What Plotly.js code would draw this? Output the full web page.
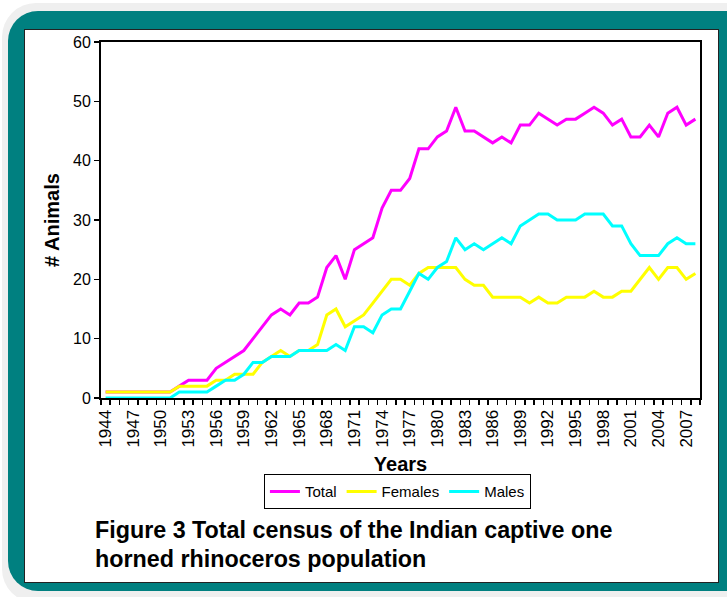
<!DOCTYPE html>
<html>
<head>
<meta charset="utf-8">
<script src="https://cdn.plot.ly/plotly-3.0.1.min.js"></script>
<style>
  html, body { margin:0; padding:0; width:727px; height:597px; overflow:hidden; background:#ffffff; }
  #ring { position:absolute; left:2px; top:3px; width:760px; height:600px; border-radius:34px; background:#efefef; }
  #teal { position:absolute; left:8px; top:11px; width:750px; height:580px; border-radius:30px; background:#008080; }
  #panel { position:absolute; left:24px; top:29px; width:693px; height:552px; background:#ffffff; border:1px solid #222; }
  #chart { position:absolute; left:0; top:0; width:727px; height:597px; }
</style>
</head>
<body>
<div id="ring"></div>
<div id="teal"></div>
<div id="panel"></div>
<div id="chart"></div>
<script>
const years = [1944,1945,1946,1947,1948,1949,1950,1951,1952,1953,1954,1955,1956,1957,1958,1959,1960,1961,1962,1963,
  1964,1965,1966,1967,1968,1969,1970,1971,1972,1973,1974,1975,1976,1977,1978,1979,1980,1981,1982,1983,
  1984,1985,1986,1987,1988,1989,1990,1991,1992,1993,1994,1995,1996,1997,1998,1999,2000,2001,2002,2003,
  2004,2005,2006,2007,2008];
const total = [1,1,1,1,1,1,1,1,2,3,3,3,5,6,7,8,10,12,14,15,
  14,16,16,17,22,24,20,25,26,27,32,35,35,37,42,42,44,45,49,45,
  45,44,43,44,43,46,46,48,47,46,47,47,48,49,48,46,47,44,44,46,
  44,48,49,46,47];
const females = [1,1,1,1,1,1,1,1,2,2,2,2,3,3,4,4,4,6,7,8,
  7,8,8,9,14,15,12,13,14,16,18,20,20,19,21,22,22,22,22,20,
  19,19,17,17,17,17,16,17,16,16,17,17,17,18,17,17,18,18,20,22,
  20,22,22,20,21];
const males = [0,0,0,0,0,0,0,0,1,1,1,1,2,3,3,4,6,6,7,7,
  7,8,8,8,8,9,8,12,12,11,14,15,15,18,21,20,22,23,27,25,
  26,25,26,27,26,29,30,31,31,30,30,30,31,31,31,29,29,26,24,24,
  24,26,27,26,26];
const seriesNames = ["Total", "Females", "Males"];
const seriesColors = ["#FF00FF", "#FFFF00", "#00FFFF"];
const tickYears = [1944,1947,1950,1953,1956,1959,1962,1965,1968,1971,1974,1977,1980,1983,1986,1989,1992,1995,1998,2001,2004,2007];
const captionLines = ["Figure 3 Total census of the Indian captive one", "horned rhinoceros population"];

const seriesData = [total, females, males];
const traces = seriesData.map((vals, i) => ({
  type: "scatter", mode: "lines", x: years, y: vals, name: seriesNames[i],
  line: { color: seriesColors[i], width: 3 }
}));

const font = "Liberation Sans, Arial, sans-serif";
const layout = {
  width: 727, height: 597,
  margin: { l: 101, r: 27, t: 42, b: 199 },
  paper_bgcolor: "rgba(0,0,0,0)",
  plot_bgcolor: "#ffffff",
  font: { family: font, color: "#000" },
  showlegend: true,
  legend: {
    orientation: "h", x: 0.272, xanchor: "left", y: -0.214, yanchor: "top",
    bordercolor: "#000", borderwidth: 1, bgcolor: "#fff",
    font: { family: font, size: 15, color: "#000" },
    itemwidth: 30, tracegroupgap: 0
  },
  xaxis: {
    range: [1943.5, 2008.5],
    tickmode: "array", tickvals: tickYears, ticktext: tickYears.map(String),
    tickangle: -90, ticks: "", tickfont: { size: 17, family: font },
    ticklabelstandoff: 3,
    minor: { tick0: 1943.5, dtick: 1, ticks: "outside", ticklen: 5, tickcolor: "#000", tickwidth: 1.5 },
    showgrid: false, zeroline: false,
    showline: true, linecolor: "#000", linewidth: 2, mirror: true,
    title: { text: "<b>Years</b>", font: { size: 20, family: font }, standoff: 10 }
  },
  yaxis: {
    range: [0, 60], dtick: 10, tick0: 0,
    ticks: "outside", ticklen: 5, tickcolor: "#000", tickwidth: 1.5,
    tickfont: { size: 16, family: font },
    showgrid: false, zeroline: false,
    showline: true, linecolor: "#000", linewidth: 2, mirror: true,
    title: { text: "<b># Animals</b>", font: { size: 20, family: font }, standoff: 8 }
  },
  annotations: captionLines.map((t, i) => ({
    text: "<b>" + t + "</b>", xref: "paper", yref: "paper",
    x: -0.0134, xanchor: "left", y: (397.7 - (530 + i * 29)) / 356, yanchor: "middle",
    showarrow: false, align: "left", font: { size: 23.3, family: font, color: "#000" }
  }))
};

Plotly.newPlot("chart", traces, layout, { displayModeBar: false, staticPlot: true });
</script>
</body>
</html>
